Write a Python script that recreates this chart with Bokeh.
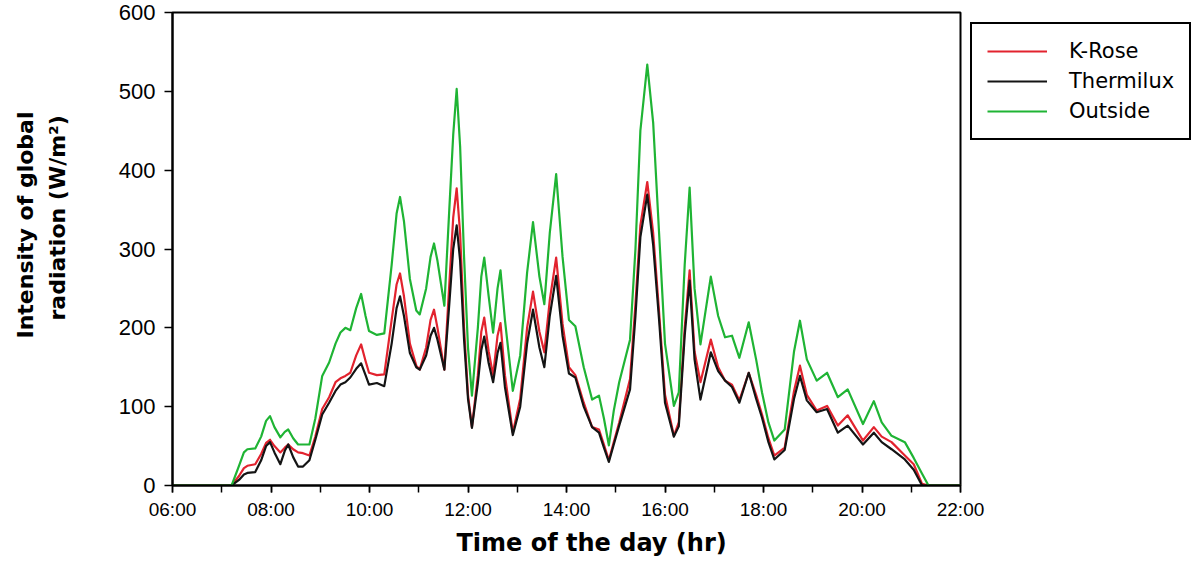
from bokeh.plotting import figure
from bokeh.models import FixedTicker, Legend, LegendItem, Range1d, Title, LinearAxis
from bokeh.embed import file_html
from bokeh.resources import INLINE

# ---- data (time of day in decimal hours, radiation in W/m2) ----
hours = [6.00, 7.20, 7.35, 7.45, 7.52, 7.68, 7.80, 7.90, 7.98, 8.07, 8.19, 8.28, 8.35,
         8.45, 8.55, 8.65, 8.78, 8.90, 9.04, 9.18, 9.31, 9.41, 9.51, 9.61, 9.73, 9.83,
         9.92, 9.99, 10.15, 10.30, 10.45, 10.55, 10.62, 10.70, 10.82, 10.95, 11.02,
         11.15, 11.24, 11.31, 11.38, 11.52, 11.62, 11.70, 11.77, 11.84, 11.92, 12.00,
         12.08, 12.20, 12.27, 12.33, 12.42, 12.51, 12.60, 12.66, 12.75, 12.91, 13.06,
         13.20, 13.32, 13.45, 13.55, 13.66, 13.79, 13.92, 14.05, 14.18, 14.35, 14.52,
         14.66, 14.76, 14.86, 14.96, 15.07, 15.29, 15.40, 15.50, 15.64, 15.76, 15.88,
         16.00, 16.18, 16.28, 16.40, 16.50, 16.60, 16.72, 16.93, 17.08, 17.22, 17.36,
         17.51, 17.70, 17.85, 17.97, 18.10, 18.22, 18.43, 18.62, 18.74, 18.88, 19.08,
         19.29, 19.51, 19.71, 20.02, 20.24, 20.40, 20.60, 20.87, 21.05, 21.22, 21.35,
         22.00]

outside = [0, 0, 25, 42, 46, 47, 62, 82, 88, 74, 61, 68, 71,
           60, 52, 52, 52, 85, 139, 156, 180, 194, 200, 197, 225, 243,
           215, 196, 191, 193, 280, 345, 366, 335, 262, 222, 217,
           250, 290, 307, 285, 228, 350, 445, 503, 430, 290, 175,
           114, 200, 265, 289, 240, 194, 250, 273, 210, 120, 165,
           270, 334, 265, 230, 320, 395, 290, 210, 202, 150, 109,
           114, 85, 51, 95, 131, 185, 300, 450, 534, 460, 320,
           180, 101, 118, 280, 378, 250, 179, 265, 215, 188, 190,
           162, 207, 160, 118, 80, 57, 71, 170, 209, 160, 133,
           143, 112, 122, 78, 107, 80, 63, 55, 35, 15, 0,
           0]

k_rose = [0, 0, 12, 22, 25, 27, 40, 54, 58, 50, 42, 48, 52,
          46, 42, 41, 38, 62, 97, 112, 131, 136, 139, 143, 165, 179,
          158, 143, 140, 141, 210, 255, 269, 240, 180, 152, 147,
          175, 210, 223, 200, 147, 255, 340, 377, 320, 200, 115,
          74, 140, 195, 213, 170, 140, 190, 206, 140, 67, 110,
          200, 246, 195, 169, 235, 289, 205, 150, 140, 105, 74,
          71, 52, 32, 55, 80, 135, 230, 330, 385, 320, 220,
          115, 63, 80, 200, 273, 170, 131, 185, 150, 133, 128,
          108, 143, 115, 90, 60, 38, 48, 120, 152, 115, 95,
          101, 76, 89, 57, 74, 62, 55, 38, 27, 2, 0,
          0]

thermilux = [0, 0, 7, 14, 16, 17, 32, 50, 55, 42, 27, 44, 52,
             36, 24, 24, 32, 58, 90, 105, 120, 128, 131, 137, 148, 155,
             140, 128, 130, 126, 180, 225, 240, 215, 168, 150, 147,
             165, 190, 200, 185, 147, 230, 300, 330, 285, 185, 110,
             73, 130, 172, 189, 155, 131, 168, 181, 125, 64, 100,
             180, 223, 175, 150, 215, 266, 190, 142, 137, 100, 74,
             67, 48, 30, 52, 76, 122, 215, 315, 369, 305, 210,
             105, 62, 75, 190, 260, 160, 109, 169, 145, 133, 125,
             105, 143, 110, 86, 55, 33, 45, 110, 139, 108, 93,
             97, 67, 76, 52, 67, 55, 46, 33, 20, 0, 0,
             0]

series_names = ["K-Rose", "Thermilux", "Outside"]
series_colors = ["#e2232e", "#141414", "#1fb434"]

x_tick_hours = [6, 8, 10, 12, 14, 16, 18, 20, 22]
x_tick_labels = ["06:00", "08:00", "10:00", "12:00", "14:00", "16:00", "18:00", "20:00", "22:00"]
y_ticks = [0, 100, 200, 300, 400, 500, 600]

x_title = "Time of the day (hr)"
y_title_lines = ["Intensity of global", "radiation (W/m\u00b2)"]

# ---- figure ----
p = figure(frame_width=788, frame_height=473, output_backend="svg", toolbar_location=None,
           x_range=Range1d(6, 22), y_range=Range1d(0, 600),
           min_border_left=172, min_border_top=12, min_border_right=225,
           min_border_bottom=76)
p.background_fill_color = "white"
p.border_fill_color = "white"
p.grid.visible = False
p.outline_line_color = "black"
p.outline_line_width = 2

renderers = []
for vals, col in zip([k_rose, thermilux, outside], series_colors):
    renderers.append(p.line(hours, vals, line_color=col, line_width=2.2,
                            line_join="round"))

# x axis
xa = p.xaxis[0]
xa.ticker = FixedTicker(ticks=x_tick_hours, minor_ticks=list(range(6, 23)))
xa.major_label_overrides = {h: lab for h, lab in zip(x_tick_hours, x_tick_labels)}
xa.axis_line_color = "black"
xa.axis_line_width = 2
xa.major_tick_line_width = 1.5
xa.major_tick_out = 7
xa.major_tick_in = 0
xa.minor_tick_line_width = 1.5
xa.minor_tick_out = 7
xa.minor_tick_in = 0
xa.major_label_standoff = 6
xa.major_label_text_font = "Liberation Sans"
xa.major_label_text_font_size = "19px"
xa.major_label_text_color = "black"

# x title below the axis
p.add_layout(Title(text=x_title, align="left", offset=284, standoff=8,
                   text_font="DejaVu Sans", text_font_style="bold",
                   text_font_size="24px", text_color="black"), "below")

# y axis
ya = p.yaxis[0]
ya.ticker = FixedTicker(ticks=y_ticks, minor_ticks=[])
ya.axis_line_color = "black"
ya.axis_line_width = 2
ya.major_tick_line_width = 1.5
ya.major_tick_out = 8
ya.major_tick_in = 0
ya.minor_tick_out = 0
ya.major_label_standoff = 9
ya.major_label_text_font = "Liberation Sans"
ya.major_label_text_font_size = "22px"
ya.major_label_text_color = "black"

# invisible spacer between the tick labels and the y title
spacer = LinearAxis(ticker=FixedTicker(ticks=[0], minor_ticks=[]),
                    major_tick_out=42, major_tick_in=0, minor_tick_out=0,
                    minor_tick_in=0, major_label_standoff=0,
                    major_label_overrides={0: ""},
                    major_label_text_color=None,
                    axis_line_color=None, major_tick_line_color="white",
                    minor_tick_line_color=None)
p.add_layout(spacer, "left")

# y title: two rotated lines in the left panel
for line, off, stand in [(y_title_lines[1], 165, 8), (y_title_lines[0], 147, 2)]:
    p.add_layout(Title(text=line, align="left", offset=off, standoff=stand,
                       text_font="DejaVu Sans", text_font_style="bold",
                       text_font_size="22px", text_color="black"), "left")

# legend
legend = Legend(items=[LegendItem(label=n, renderers=[r]) for n, r in zip(series_names, renderers)],
                location="top_left")
legend.margin = 10
legend.padding = 15
legend.spacing = 6
legend.glyph_width = 60
legend.glyph_height = 22
legend.label_height = 22
legend.label_standoff = 22
legend.label_text_font = "DejaVu Sans"
legend.label_text_font_size = "21px"
legend.label_text_color = "black"
legend.border_line_color = "black"
legend.border_line_alpha = 1.0
legend.border_line_width = 2
legend.background_fill_color = "white"
p.add_layout(legend, "right")

open("out.html", "w").write(file_html(p, INLINE))
